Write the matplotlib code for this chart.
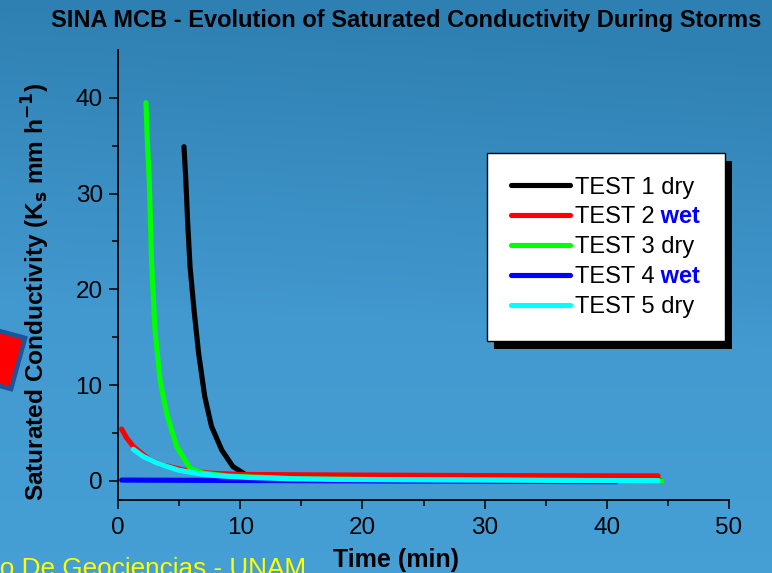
import numpy as np
import matplotlib
matplotlib.use("Agg")
import matplotlib.pyplot as plt
from matplotlib.patches import Rectangle
from matplotlib.transforms import IdentityTransform

plt.rcParams['font.family'] = ['Liberation Sans', 'DejaVu Sans']

# Saturated conductivity (mm/h) versus elapsed storm time (min)
t1 = [5.4, 5.55, 5.7, 5.9, 6.25, 6.6, 7.1, 7.65, 8.5, 9.4, 10.5, 12, 15, 20, 30, 44.4]
k1 = [34.9, 31.5, 27.0, 22.3, 17.5, 13.3, 8.8, 5.7, 3.2, 1.5, 0.6, 0.4, 0.3, 0.2, 0.1, 0.05]

t2 = [0.3, 0.7, 1.25, 2.0, 2.6, 3.5, 5.3, 7.5, 10, 15, 20, 30, 44.2]
k2 = [5.4, 4.5, 3.6, 2.8, 2.2, 1.7, 1.15, 0.8, 0.67, 0.63, 0.6, 0.55, 0.52]

t3 = [2.29, 2.4, 2.56, 2.75, 3.03, 3.44, 3.98, 4.8, 5.9, 7, 9, 15, 25, 44.5]
k3 = [39.5, 35.5, 31.4, 22.7, 15.7, 10.5, 7.05, 3.6, 1.3, 0.8, 0.5, 0.2, 0.1, 0.0]

t4 = [0.3, 5, 10, 20, 30, 40.8]
k4 = [0.08, 0.06, 0.04, 0.0, -0.05, -0.08]

t5 = [1.25, 2.0, 2.6, 3.2, 4.0, 5.0, 6.7, 8.5, 10.8, 14, 17.6, 25, 35, 44.2]
k5 = [3.3, 2.6, 2.2, 1.85, 1.5, 1.1, 0.73, 0.5, 0.35, 0.22, 0.15, 0.1, 0.05, 0.02]

series = [
    (t1, k1, "black", "TEST 1", "dry"),
    (t2, k2, "#ff0000", "TEST 2", "wet"),
    (t3, k3, "#00ff00", "TEST 3", "dry"),
    (t4, k4, "#0000ff", "TEST 4", "wet"),
    (t5, k5, "#00ffff", "TEST 5", "dry"),
]

W, H = 772, 573
fig = plt.figure(figsize=(W / 100, H / 100), dpi=100)

# slide background: blue vertical gradient
bg = fig.add_axes([0, 0, 1, 1], zorder=-10)
yy = np.linspace(0, 1, 200)[:, None]
xx = np.linspace(0, 1, 200)[None, :]
top = np.array([47, 128, 178]) / 255
mid = np.array([66, 153, 207]) / 255
bot = np.array([70, 160, 213]) / 255
f = np.clip(yy * 1.9 - xx * 0.15, 0, 1)[..., None]
g = np.clip(yy * 1.9 - 1.0, 0, 1)[..., None]
img = top * (1 - f) + mid * f
img = img * (1 - g) + bot * g
bg.imshow(img, aspect='auto', extent=[0, 1, 0, 1], origin='upper')
bg.axis('off')

# decorative tilted red square at the left edge
fig.patches.append(Rectangle((-40, 198), 53, 53, angle=-15.4, facecolor='#ff0000',
                             edgecolor='#1d559a', linewidth=3.2,
                             transform=IdentityTransform(), zorder=1))

ax = fig.add_axes([118 / W, 1 - 500 / H, (729 - 118) / W, (500 - 50) / H])
ax.set_facecolor('none')

for t, k, c, name, cond in series:
    ax.plot(t, k, color=c, lw=3.7, solid_capstyle='round',
            label=name + (" dry" if cond == "dry" else ""))

ax.set_xlim(0, 50)
ax.set_ylim(-2, 45)
ax.set_xticks([0, 10, 20, 30, 40, 50])
ax.set_yticks([0, 10, 20, 30, 40])
ax.set_xticks(np.arange(5, 50, 10), minor=True)
ax.set_yticks(np.arange(5, 45, 10), minor=True)
for s in ['top', 'right']:
    ax.spines[s].set_visible(False)
for s in ['left', 'bottom']:
    ax.spines[s].set_linewidth(1.3)
ax.tick_params(which='major', length=6.5, width=1.1, labelsize=17.5, pad=4.5)
ax.tick_params(axis='x', which='major', pad=5.5)
ax.tick_params(which='minor', length=4, width=1.1)

leg = ax.legend(loc='upper left', bbox_to_anchor=((487 - 118) / 611, (500 - 153) / 450, (725 - 487) / 611, 0),
                mode='expand', fontsize=17, handlelength=2.5, handletextpad=0.22,
                labelspacing=0.33, borderpad=1.0, borderaxespad=0, fancybox=False,
                framealpha=1, edgecolor='black')
leg.get_frame().set_linewidth(1.0)

for txt, (t, k, c, name, cond) in zip(leg.get_texts(), series):
    if cond == "wet":
        ax.annotate(" wet", xy=(1, 0), xycoords=txt, va='bottom', ha='left',
                    fontsize=17, fontweight='bold', color='#0000ff', zorder=10,
                    annotation_clip=False)

fig.canvas.draw()
bb = leg.get_window_extent().transformed(ax.transAxes.inverted())
ax.add_patch(Rectangle((bb.x0 + 7 / 611, bb.y0 - 8 / 450), bb.width, bb.height,
                       transform=ax.transAxes, facecolor='black', edgecolor='none',
                       zorder=4.9, clip_on=False))

fig.text(406 / W, 1 - 20 / H, "SINA MCB - Evolution of Saturated Conductivity During Storms",
         ha='center', va='center', fontsize=17, fontweight='bold')
fig.text(396 / W, 1 - 560 / H, "Time (min)", ha='center', va='center',
         fontsize=18, fontweight='bold')
fig.text(36 / W, 1 - 292 / H, r"Saturated Conductivity (K$_\mathbf{s}$ mm h$^\mathbf{-1}$)",
         ha='center', va='center', rotation=90, fontsize=17.6, fontweight='bold')
fig.text(306 / W, -3.4 / H, "Centro De Geociencias - UNAM", ha='right', va='baseline',
         fontsize=18.8, color='#ffff00')

fig.savefig("out.png", dpi=100)
